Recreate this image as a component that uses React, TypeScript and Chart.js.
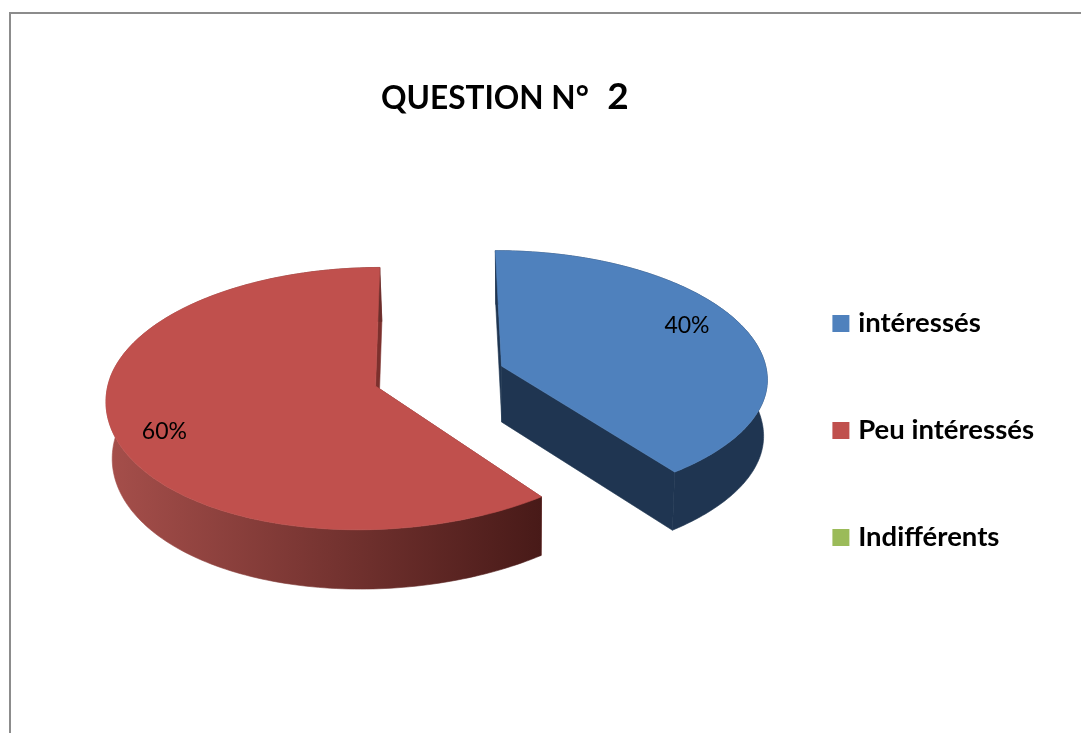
import { useEffect, useRef } from "react";
import { Chart, registerables } from "chart.js";

Chart.register(...registerables);

const categories = ["intéressés", "Peu intéressés", "Indifférents"];
const shares = [40, 60, 0];
const sliceColors = ["#4f81bd", "#c0504d", "#9bbb59"];
const titleMain = "QUESTION N°";
const titleNumber = "2";

const FONT = "Lato, Carlito, sans-serif";

// View of the tilted pie
const VIEW = { x0: 439, y0: 376, rx: 266, ry: 127.5, persp: 0.09, skew: 0.04, depth: 56, shrink: 0.985, shrinkX: 520 };
const WALL_OUTER: Record<number, string[]> = {
  0: ["#1f3551", "#1f3551"],
  1: ["#a64f4b", "#481a18"],
};
const WALL_CUT: Record<number, string> = { 0: "#1f3551", 1: "#7c302d" };
const LABEL_RADIUS = [0.8, 0.825, 0.8];
const LABEL_TURN = [-6, -5, 0];

const pie3d = {
  id: "pie3d",
  beforeDatasetsDraw(chart: any) {
    const ctx: CanvasRenderingContext2D = chart.ctx;
    const arcs = chart.getDatasetMeta(0).data;
    const view = (arc: any, px: number, py: number) => {
      const u = (px - arc.x) / arc.outerRadius;
      const v = (py - arc.y) / arc.outerRadius;
      const w = 1 - VIEW.persp * v;
      const lean = v > 0 ? 1 - VIEW.skew * u : 1;
      return [VIEW.x0 + (VIEW.rx * u) / w, VIEW.y0 + ((VIEW.ry * v) / w) * lean];
    };
    arcs.forEach((arc: any, i: number) => {
      if (!arc.circumference) return;
      const R = arc.outerRadius;
      const half = (arc.startAngle + arc.endAngle) / 2;
      const d = (arc.options.offset || 0) / 4;
      const ax = arc.x + Math.cos(half) * d;
      const ay = arc.y + Math.sin(half) * d;
      const bottom = (p: number[]) => [
        VIEW.shrinkX + (p[0] - VIEW.shrinkX) * VIEW.shrink,
        p[1] + VIEW.depth + (p[1] - 365) * 0.02,
      ];
      const rim: number[][] = [];
      const steps = 180;
      for (let k = 0; k <= steps; k++) {
        const t = arc.startAngle + ((arc.endAngle - arc.startAngle) * k) / steps;
        rim.push(view(arc, ax + R * Math.cos(t), ay + R * Math.sin(t)));
      }
      const apex = view(arc, ax, ay);
      const poly = (pts: number[][], fill: any) => {
        ctx.beginPath();
        pts.forEach((p, n) => (n ? ctx.lineTo(p[0], p[1]) : ctx.moveTo(p[0], p[1])));
        ctx.closePath();
        ctx.fillStyle = fill;
        ctx.strokeStyle = fill;
        ctx.lineWidth = 0.6;
        ctx.fill();
        ctx.stroke();
      };
      // cut faces
      [rim[0], rim[steps]].forEach((edge) => {
        poly([apex, edge, bottom(edge), bottom(apex)], WALL_CUT[i]);
      });
      // outer wall
      const xs = rim.map((p) => p[0]);
      const grad = ctx.createLinearGradient(Math.min(...xs), 0, Math.max(...xs), 0);
      grad.addColorStop(0, WALL_OUTER[i][0]);
      grad.addColorStop(1, WALL_OUTER[i][1]);
      poly([...rim, ...rim.map(bottom).reverse()], grad);
      // top face
      poly([apex, ...rim], arc.options.backgroundColor);
    });
    // value labels
    ctx.save();
    ctx.fillStyle = "#000";
    ctx.font = `400 23px ${FONT}`;
    ctx.textAlign = "center";
    ctx.textBaseline = "middle";
    arcs.forEach((arc: any, i: number) => {
      if (!arc.circumference) return;
      const R = arc.outerRadius;
      const half = (arc.startAngle + arc.endAngle) / 2;
      const d = (arc.options.offset || 0) / 4;
      const t = half + (LABEL_TURN[i] * Math.PI) / 180;
      const p = view(
        arc,
        arc.x + Math.cos(half) * d + Math.cos(t) * R * LABEL_RADIUS[i],
        arc.y + Math.sin(half) * d + Math.sin(t) * R * LABEL_RADIUS[i],
      );
      ctx.fillText(`${shares[i]}%`, p[0], p[1]);
    });
    ctx.restore();
    return false;
  },
};

export default function App() {
  const ref = useRef<HTMLCanvasElement>(null);
  useEffect(() => {
    document.body.style.margin = "0";
    document.body.style.background = "#fff";
    document.body.style.overflow = "hidden";
    const chart = new Chart(ref.current!, {
      type: "pie",
      data: {
        labels: categories,
        datasets: [{ data: shares, backgroundColor: sliceColors, borderColor: sliceColors, borderWidth: 10, offset: 198 }],
      },
      options: {
        responsive: false,
        animation: false,
        rotation: -0.25,
        layout: { padding: { top: 128, right: 37 } },
        plugins: {
          tooltip: { enabled: false },
          legend: {
            position: "right",
            labels: {
              boxWidth: 7,
              boxHeight: 7,
              padding: 79.5,
              color: "#000",
              font: { family: FONT, size: 27.5, weight: "bold" },
            },
          },
        },
      },
      plugins: [pie3d],
    } as any);
    return () => chart.destroy();
  }, []);
  return (
    <div style={{ position: "relative", width: 1081, height: 733, overflow: "hidden", background: "#fff" }}>
      <div
        style={{
          position: "absolute",
          left: 9,
          top: 12,
          width: 1100,
          height: 800,
          borderTop: "2px solid #8c8c8c",
          borderLeft: "2px solid #8c8c8c",
        }}
      />
      <canvas ref={ref} width={1081} height={733} style={{ position: "absolute", left: 0, top: 0, display: "block" }} />
      <div
        style={{
          position: "absolute",
          left: 381,
          top: 70,
          whiteSpace: "pre",
          fontFamily: FONT,
          fontWeight: 700,
          fontSize: 31.6,
          lineHeight: "50px",
          color: "#000",
        }}
      >
        {titleMain + "  "}
        <span style={{ fontSize: 37, marginLeft: 3 }}>{titleNumber}</span>
      </div>
    </div>
  );
}
